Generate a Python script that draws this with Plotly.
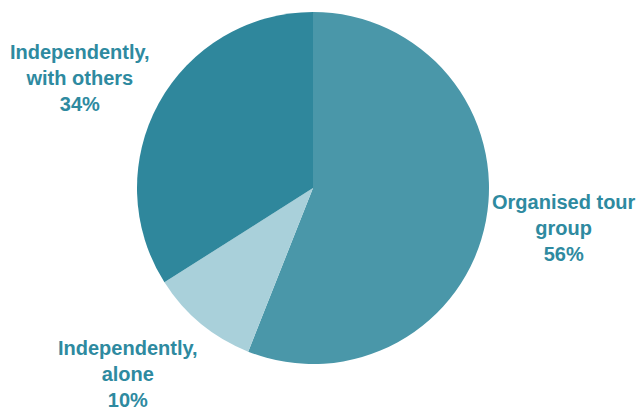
import plotly.graph_objects as go

# Travel arrangement shares
labels = ["Organised tour<br>group", "Independently,<br>alone", "Independently,<br>with others"]
values = [56, 10, 34]
colors = ["#4a97a9", "#a9d0da", "#2f879c"]

W, H = 638, 410
cx, cy, r = 313, 188, 176

fig = go.Figure(go.Pie(
    labels=labels,
    values=values,
    sort=False,
    direction="clockwise",
    rotation=0,
    textinfo="none",
    hoverinfo="label+percent",
    marker=dict(colors=colors, line=dict(width=0)),
    domain=dict(x=[(cx - r) / W, (cx + r) / W],
                y=[(H - cy - r) / H, (H - cy + r) / H]),
    showlegend=False,
))

# Outside labels: (x centre, y centre) in pixels
label_pos = [(564, 228), (128, 374), (80, 78)]
for lab, val, (px, py) in zip(labels, values, label_pos):
    fig.add_annotation(
        x=px / W, y=1 - py / H, xref="paper", yref="paper",
        text=f"<b>{lab}<br>{val}%</b>", showarrow=False,
        font=dict(family="Liberation Sans, Arial", size=20, color="#2e8aa0"),
        align="center", xanchor="center", yanchor="middle",
    )

fig.update_layout(
    width=W, height=H,
    margin=dict(l=0, r=0, t=0, b=0),
    paper_bgcolor="white", plot_bgcolor="white",
)

fig.write_html("out.html")
